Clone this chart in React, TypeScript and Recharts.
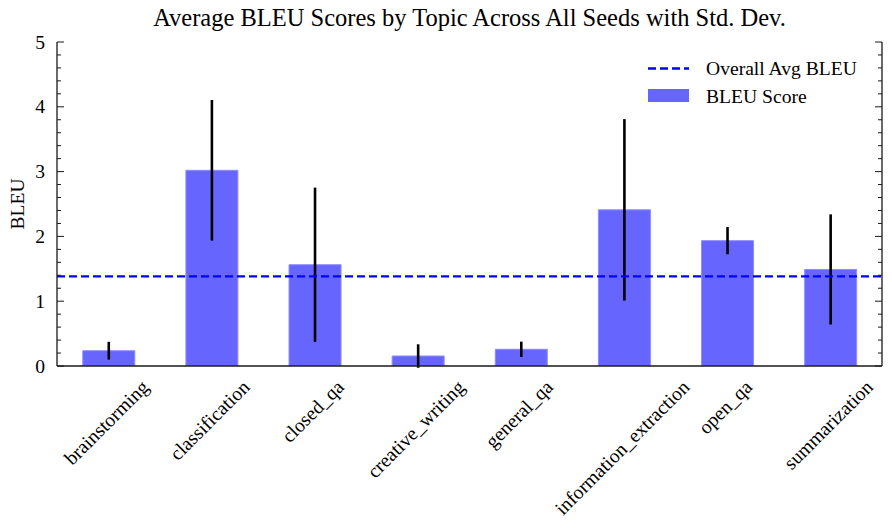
import React from 'react';
import { BarChart, Bar, XAxis, YAxis, ErrorBar, ReferenceLine, Customized } from 'recharts';

const topics = ['brainstorming', 'classification', 'closed_qa', 'creative_writing', 'general_qa', 'information_extraction', 'open_qa', 'summarization'];
const bleuMeans = [0.236, 3.02, 1.563, 0.154, 0.258, 2.41, 1.934, 1.49];
const bleuStd = [0.137, 1.085, 1.19, 0.181, 0.118, 1.4, 0.21, 0.85];
const overallAvg = 1.383;
const yTicks = [0, 0.2, 0.4, 0.6, 0.8, 1, 1.2, 1.4, 1.6, 1.8, 2, 2.2, 2.4, 2.6, 2.8, 3, 3.2, 3.4, 3.6, 3.8, 4, 4.2, 4.4, 4.6, 4.8, 5];
const legendLabels = ['Overall Avg BLEU', 'BLEU Score'];
const titleText = 'Average BLEU Scores by Topic Across All Seeds with Std. Dev.';
const yLabelText = 'BLEU';

const data = topics.map((t, i) => ({ topic: t, bleu: bleuMeans[i], std: bleuStd[i] }));

const FONT = "'Liberation Serif', serif";
const FS = 19.6;
const TITLE_FS = 24.5;
const AXIS_COLOR = '#1a1a1a';
const BAR_COLOR = '#6666ff';

let ctx: CanvasRenderingContext2D | null = null;
const measure = (text: string, size: number) => {
  if (!ctx) ctx = document.createElement('canvas').getContext('2d');
  if (!ctx) return text.length * size * 0.45;
  ctx.font = `${size}px ${FONT}`;
  return ctx.measureText(text).width;
};

const isMajor = (v: number) => Math.abs(v - Math.round(v)) < 1e-6;

const LeftTick = (props: any) => {
  const { x, y, payload } = props;
  const v = payload.value;
  const major = isMajor(v);
  return (
    <g>
      <line x1={x} x2={x + (major ? 7 : 4)} y1={y} y2={y} stroke={AXIS_COLOR} strokeWidth={1} />
      {major && (
        <text x={x - 12} y={y + FS * 0.34} textAnchor="end" fontFamily={FONT} fontSize={FS} fill="#000">
          {String(Math.round(v))}
        </text>
      )}
    </g>
  );
};

const RightTick = (props: any) => {
  const { x, y, payload } = props;
  const major = isMajor(payload.value);
  return <line x1={x} x2={x - (major ? 7 : 4)} y1={y} y2={y} stroke={AXIS_COLOR} strokeWidth={1} />;
};

const XTick = (props: any) => {
  const { x, y, payload } = props;
  const text = String(payload.value);
  const L = measure(text, FS);
  const h = FS * 1.12;
  const top = y + 10;
  const cx = x - 2;
  const cy = top + (L + h) * 0.35355;
  return (
    <text
      x={cx}
      y={cy}
      textAnchor="middle"
      dominantBaseline="central"
      transform={`rotate(-45, ${cx}, ${cy})`}
      fontFamily={FONT}
      fontSize={FS}
      fill="#000"
    >
      {text}
    </text>
  );
};

const Decorations = () => (
  <g>
    <text x={469.5} y={26} textAnchor="middle" fontFamily={FONT} fontSize={TITLE_FS} fill="#000">
      {titleText}
    </text>
    <text
      x={17}
      y={204}
      textAnchor="middle"
      dominantBaseline="central"
      transform="rotate(-90, 17, 204)"
      fontFamily={FONT}
      fontSize={FS}
      fill="#000"
    >
      {yLabelText}
    </text>
    <line x1={648} x2={689} y1={68.5} y2={68.5} stroke="#0000ff" strokeWidth={2.3} strokeDasharray="8 4" />
    <text x={706} y={68.5 + FS * 0.34} fontFamily={FONT} fontSize={FS} fill="#000">
      {legendLabels[0]}
    </text>
    <rect x={648} y={89} width={41} height={13} fill={BAR_COLOR} />
    <text x={706} y={96 + FS * 0.34} fontFamily={FONT} fontSize={FS} fill="#000">
      {legendLabels[1]}
    </text>
  </g>
);

export default function App() {
  return (
    <div style={{ width: 892, height: 528, margin: '-8px', fontFamily: FONT }}>
      <BarChart
        width={892}
        height={528}
        data={data}
        margin={{ top: 42, right: 0, bottom: 0, left: 0 }}
        barCategoryGap="25%"
      >
        <XAxis
          dataKey="topic"
          interval={0}
          tickLine={false}
          tickSize={0}
          tickMargin={0}
          height={162}
          axisLine={{ stroke: AXIS_COLOR, strokeWidth: 1.3 }}
          tick={(p: any) => <XTick {...p} />}
        />
        <XAxis
          xAxisId="top"
          dataKey="topic"
          orientation="top"
          height={0}
          tick={false}
          tickLine={false}
          axisLine={{ stroke: AXIS_COLOR, strokeWidth: 1.3 }}
        />
        <YAxis
          width={57}
          domain={[0, 5]}
          allowDataOverflow
          ticks={yTicks}
          interval={0}
          tickLine={false}
          tickSize={0}
          tickMargin={0}
          axisLine={{ stroke: AXIS_COLOR, strokeWidth: 1.3 }}
          tick={(p: any) => <LeftTick {...p} />}
        />
        <YAxis
          yAxisId="right"
          orientation="right"
          width={10}
          domain={[0, 5]}
          allowDataOverflow
          ticks={yTicks}
          interval={0}
          tickLine={false}
          tickSize={0}
          tickMargin={0}
          axisLine={{ stroke: AXIS_COLOR, strokeWidth: 1.3 }}
          tick={(p: any) => <RightTick {...p} />}
        />
        <Bar dataKey="bleu" fill={BAR_COLOR} stroke="#8c8cff" strokeWidth={1} isAnimationActive={false}>
          <ErrorBar dataKey="std" width={0} stroke="#000" strokeWidth={2.6} direction="y" isAnimationActive={false} />
        </Bar>
        <ReferenceLine y={overallAvg} stroke="#0000ff" strokeWidth={2.3} strokeDasharray="8 4" />
        <Customized component={<Decorations />} />
      </BarChart>
    </div>
  );
}
